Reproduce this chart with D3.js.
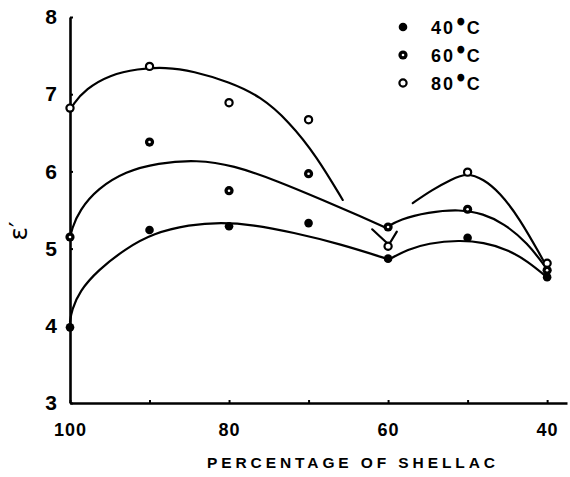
<!DOCTYPE html>
<html>
<head>
<meta charset="utf-8">
<script src="https://cdn.jsdelivr.net/npm/d3@7"></script>
<style>
  body { margin: 0; background: #fff; }
  svg { display: block; }
  text { font-family: "Liberation Sans", Arial, sans-serif; font-weight: bold; fill: #000; }
</style>
</head>
<body>
<svg id="chart" width="570" height="477"></svg>
<script>
// ---- data ----
const shellac = [100, 90, 80, 70, 60, 50, 40];
const series = ["40°C", "60°C", "80°C"];
const eps40 = [3.98, 5.24, 5.29, 5.33, 4.87, 5.14, 4.63];
const eps60 = [5.15, 6.38, 5.75, 5.97, 5.28, 5.51, 4.72];
const eps80 = [6.82, 7.36, 6.89, 6.67, 5.03, 5.99, 4.81];
const xTickValues = [100, 90, 80, 70, 60, 50, 40];
const xTickLabels = ["100", "", "80", "", "60", "", "40"];
const yTickValues = [3, 4, 5, 6, 7, 8];

// hand-drawn fitted curves, segments of [shellac, eps]
const curve40 = [
  [[100, 4.05], [99.8, 4.2], [98.8, 4.45], [96.5, 4.72], [93, 5.0], [89.5, 5.2], [85, 5.31], [81, 5.34], [77, 5.31], [72, 5.21], [66, 5.06], [59.9, 4.86]],
  [[59.9, 4.86], [57.5, 4.99], [55, 5.07], [51, 5.11], [48, 5.08], [45, 4.99], [42.5, 4.84], [39.9, 4.62]]
];
const curve60 = [
  [[100, 5.12], [99.8, 5.25], [98.8, 5.5], [96.5, 5.78], [93, 6.0], [89, 6.11], [84, 6.15], [79.5, 6.08], [74, 5.88], [68, 5.62], [63.5, 5.42], [60.3, 5.27]],
  [[60.3, 5.27], [58.5, 5.38], [55, 5.47], [51, 5.51], [48, 5.45], [45.5, 5.33], [42.5, 5.08], [39.9, 4.72]]
];
const curve80 = [
  [[100, 6.78], [99.7, 6.86], [98, 7.07], [95, 7.25], [91.5, 7.33], [88, 7.35], [84.5, 7.3], [80, 7.16], [76, 6.97], [72.5, 6.65], [69, 6.2], [65.7, 5.63]],
  [[62, 5.25], [59.9, 5.05], [58.9, 5.22]],
  [[56.9, 5.59], [54.5, 5.76], [52, 5.9], [50.1, 5.98], [48, 5.9], [46, 5.73], [43.5, 5.4], [40.5, 4.85]]
];

const svg = d3.select("#chart");
const x = d3.scaleLinear().domain([100, 37.5]).range([70, 567]);
const y = d3.scaleLinear().domain([3, 8]).range([403, 17]);

// axes
const xAxis = d3.axisBottom(x).tickValues(xTickValues)
  .tickFormat((d, i) => xTickLabels[i]).tickSize(-3).tickSizeOuter(0).tickPadding(20);
const gx = svg.append("g").attr("transform", "translate(0,403)").call(xAxis);
const yAxis = d3.axisLeft(y).tickValues(yTickValues).tickFormat(d3.format("d"))
  .tickSize(-3).tickSizeOuter(0).tickPadding(13);
const gy = svg.append("g").attr("transform", "translate(70,0)").call(yAxis);
[gx, gy].forEach(g => {
  g.select(".domain").attr("stroke", "#000").attr("stroke-width", 2.6);
  g.selectAll(".tick line").attr("stroke", "#000").attr("stroke-width", 2);
  g.selectAll(".tick text").attr("fill", "#000")
    .style("font-family", "'Liberation Sans', Arial, sans-serif").style("font-weight", "bold");
});
gx.selectAll(".tick text").style("font-size", "18px").attr("letter-spacing", 1);
gy.selectAll(".tick text").style("font-size", "21px");

// axis titles
svg.append("text").attr("x", 207).attr("y", 468)
  .attr("textLength", 288).attr("lengthAdjust", "spacing")
  .style("font-size", "15.5px").text("PERCENTAGE OF SHELLAC");
svg.append("text")
  .attr("transform", "translate(27,231) rotate(-90)")
  .attr("text-anchor", "middle")
  .style("font-size", "25px").style("font-weight", "normal")
  .style("font-family", "'DejaVu Sans', sans-serif")
  .text("ε′");

// curves
const smooth = d3.line().x(d => x(d[0])).y(d => y(d[1])).curve(d3.curveBasis);
const straight = d3.line().x(d => x(d[0])).y(d => y(d[1]));
[curve40, curve60, curve80].forEach(segs => {
  segs.forEach(seg => {
    svg.append("path").attr("d", seg.length > 3 ? smooth(seg) : straight(seg))
      .attr("fill", "none").attr("stroke", "#000").attr("stroke-width", 2.2)
      .attr("stroke-linecap", "round").attr("stroke-linejoin", "round");
  });
});

// markers
function marker(g, type, cx, cy) {
  if (type === 0) {
    g.append("circle").attr("cx", cx).attr("cy", cy).attr("r", 4.3).attr("fill", "#000");
  } else if (type === 1) {
    g.append("circle").attr("cx", cx).attr("cy", cy).attr("r", 4.6).attr("fill", "#000");
    g.append("circle").attr("cx", cx).attr("cy", cy).attr("r", 1.3).attr("fill", "#fff");
  } else {
    g.append("circle").attr("cx", cx).attr("cy", cy).attr("r", 3.6)
      .attr("fill", "#fff").attr("stroke", "#000").attr("stroke-width", 2.2);
  }
}
const gm = svg.append("g");
[eps40, eps60, eps80].forEach((vals, si) => {
  vals.forEach((v, i) => marker(gm, si, x(shellac[i]), y(v)));
});

// legend
const legY = [27, 55, 83];
series.forEach((name, i) => {
  marker(svg, i, 403, legY[i]);
  const t = svg.append("text").attr("x", 431).attr("y", legY[i] + 7)
    .style("font-size", "18px").attr("letter-spacing", 2);
  t.append("tspan").text(name.slice(0, 2));
  t.append("tspan").attr("dx", 3).attr("dy", -4).style("font-size", "14px")
    .attr("stroke", "#000").attr("stroke-width", 2.6).text("°");
  t.append("tspan").attr("dx", 1).attr("dy", 4).text("C");
});
</script>
</body>
</html>
